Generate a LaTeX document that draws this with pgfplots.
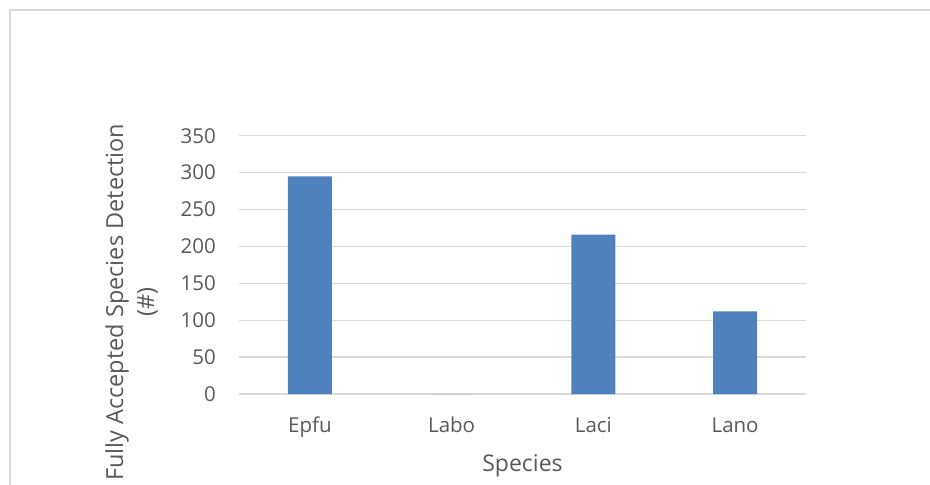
\documentclass[border=0pt]{standalone}
\usepackage{pgfplots}
\pgfplotsset{compat=1.18}
\usepackage{fontspec}
\setmainfont{Open Sans}
\definecolor{barblue}{HTML}{4F81BD}
\definecolor{gridgray}{HTML}{D9D9D9}
\definecolor{framegray}{HTML}{D9D9D9}
\definecolor{textgray}{HTML}{595959}
\begin{document}
\begin{tikzpicture}[x=1pt,y=1pt]
\path[use as bounding box] (0,0) rectangle (930,485);
% chart area frame (top and left edges)
\draw[framegray, line width=1.3pt] (10,0) -- (10,475) -- (931,475);
\begin{axis}[
  at={(239pt,91pt)}, anchor=south west,
  scale only axis, width=567pt, height=258.3pt,
  xmin=-0.5, xmax=3.5, ymin=0, ymax=350,
  ytick={0,50,...,350},
  xtick={0,1,2,3}, xticklabels={Epfu,Labo,Laci,Lano},
  axis line style={draw=none},
  major tick length=0pt,
  ymajorgrids, grid style={gridgray, line width=1.3pt},
  /pgf/number format/assume math mode=true,
  yticklabel style={font=\fontsize{20.5}{24}\selectfont, text=textgray,
    anchor=east, inner sep=0pt, xshift=-23pt},
  xticklabel style={font=\fontsize{20.5}{24}\selectfont, text=textgray,
    anchor=base, inner sep=0pt, yshift=-38pt},
  xlabel={Species},
  xlabel style={at={(axis description cs:0.5,0)}, anchor=base,
    inner sep=0pt, yshift=-77.7pt,
    font=\fontsize{23}{28}\selectfont, text=textgray},
  ylabel={Fully Accepted Species Detection\\(\#)},
  ylabel style={at={(axis description cs:-0.2363,0.355)}, anchor=north,
    inner sep=0pt, align=center,
    font=\fontsize{23.5}{31}\selectfont, text=textgray},
  ybar, bar width=44pt,
]
\addplot[fill=barblue, draw=none] coordinates {(0,295) (1,0) (2,216) (3,112)};
\end{axis}
\end{tikzpicture}
\end{document}
